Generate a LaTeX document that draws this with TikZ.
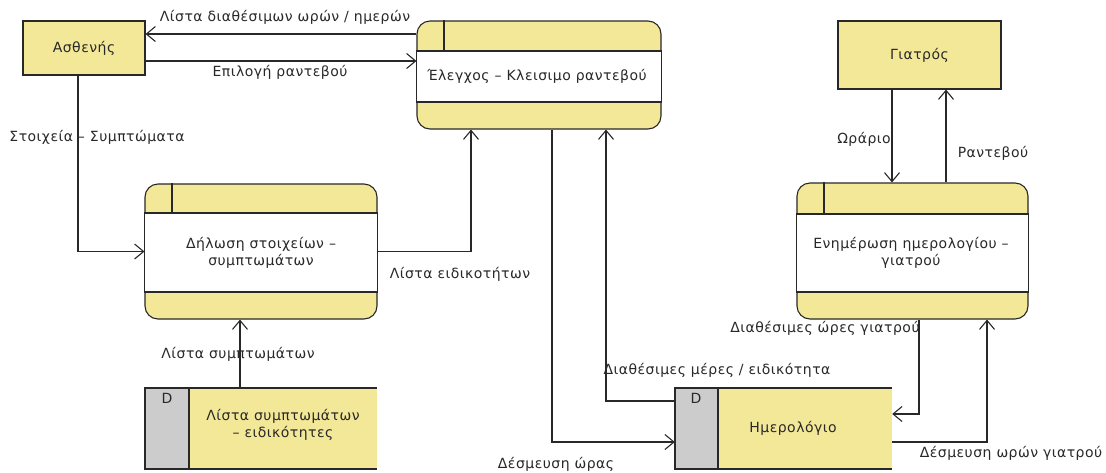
\documentclass[tikz,border=0pt]{standalone}
\usepackage{fontspec}
\setmainfont{DejaVu Sans}[LetterSpace=3.5]
\usetikzlibrary{arrows.meta}
\definecolor{procfill}{RGB}{243,232,152}
\definecolor{storegray}{RGB}{204,204,204}
\definecolor{ink}{RGB}{40,40,40}
\tikzset{
  base/.style={line width=1.1pt, draw=ink},
  entity/.style={base, rectangle, fill=procfill, inner sep=0pt},
  procbox/.style={base, rectangle, rounded corners=13pt, fill=procfill, inner sep=0pt},
  holder/.style={rectangle, inner sep=0pt},
  txt/.style={font=\fontsize{14}{17}\selectfont, text=ink, align=center, inner sep=0pt},
  lbl/.style={txt},
  flow/.style={base, -{Straight Barb[length=9pt,width=15pt,line width=1.1pt]}},
}
\newcommand{\procbands}[4]{% name, header bottom, footer top, divider x
  \fill[white] (#1.west |- 0,#2) rectangle (#1.east |- 0,#3);
  \draw[base] (#1.west |- 0,#2) -- (#1.east |- 0,#2);
  \draw[base] (#1.west |- 0,#3) -- (#1.east |- 0,#3);
  \draw[base] (#1.west |- 0,#2) -- (#1.west |- 0,#3);
  \draw[base] (#1.east |- 0,#2) -- (#1.east |- 0,#3);
  \draw[base] (#4,0 |- #1.north) -- (#4,#2);
}
\newcommand{\datastore}[6]{% name, left, top, right, bottom, gray right
  \fill[procfill] (#6,#3) rectangle (#4,#5);
  \fill[storegray] (#2,#3) rectangle (#6,#5);
  \draw[base] (#4,#3) -- (#2,#3) -- (#2,#5) -- (#4,#5);
  \draw[base] (#6,#3) -- (#6,#5);
  \node[holder, minimum width={#4-#2}, minimum height={#5-#3}] (#1) at ({(#2+#4)/2},{(#3+#5)/2}) {};
}
\begin{document}
\begin{tikzpicture}[x=1pt,y=-1pt]
\useasboundingbox (0,0) rectangle (1106,472);

% external entities
\node[entity, minimum width=122pt, minimum height=54pt] (pat) at (84,48) {};
\node[txt] at (pat.center) {Ασθενής};
\node[entity, minimum width=163pt, minimum height=68pt] (doc) at (919.5,55) {};
\node[txt] at (doc.center) {Γιατρός};

% processes
\node[procbox, minimum width=244pt, minimum height=108pt] (chk) at (539,75) {};
\procbands{chk}{51}{102}{444}
\node[txt] at (537,76.5) {Έλεγχος – Κλεισιμο ραντεβού};

\node[procbox, minimum width=232pt, minimum height=135pt] (dec) at (261,251.5) {};
\procbands{dec}{213}{292}{172}
\node[txt] at (261,253) {Δήλωση στοιχείων –\\συμπτωμάτων};

\node[procbox, minimum width=231pt, minimum height=136pt] (upd) at (912.5,251) {};
\procbands{upd}{214}{292}{824}
\node[txt] at (911,253) {Ενημέρωση ημερολογίου –\\γιατρού};

% data stores
\datastore{sym}{145}{388}{377}{469}{189}
\node[txt] at (167,398) {D};
\node[txt] at (283,425) {Λίστα συμπτωμάτων\\– ειδικότητες};
\datastore{cal}{675}{388}{892}{469}{718}
\node[txt] at (696,398) {D};
\node[txt] at (793,428) {Ημερολόγιο};

% data flows
\draw[flow] ([yshift=41pt]chk.west) -- ([yshift=41pt]chk.west -| pat.east);
\draw[flow] ([yshift=-13pt]pat.east) -- ([yshift=-13pt]pat.east -| chk.west);
\draw[flow] ([xshift=-6pt]pat.south) |- (dec.west);
\draw[flow] (dec.east) -| ([xshift=-68pt]chk.south);
\draw[flow] ([xshift=-21pt]sym.north) -- ([xshift=-21pt]sym.north |- dec.south);
\draw[flow] ([xshift=13pt]chk.south) |- ([yshift=-13.5pt]cal.west);
\draw[flow] ([yshift=27.5pt]cal.west) -| ([xshift=67pt]chk.south);
\draw[flow] ([xshift=6.5pt]upd.south) |- ([yshift=14.5pt]cal.east);
\draw[flow] ([yshift=-13.5pt]cal.east) -| ([xshift=74.5pt]upd.south);
\draw[flow] ([xshift=-27.5pt]doc.south) -- ([xshift=-27.5pt]doc.south |- upd.north);
\draw[flow] ([xshift=33.5pt]upd.north) -- ([xshift=33.5pt]upd.north |- doc.south);

% flow labels
\node[lbl] at (285,17) {Λίστα διαθέσιμων ωρών / ημερών};
\node[lbl] at (280,72) {Επιλογή ραντεβού};
\node[lbl] at (97,137) {Στοιχεία – Συμπτώματα};
\node[lbl] at (460,274) {Λίστα ειδικοτήτων};
\node[lbl] at (238,354) {Λίστα συμπτωμάτων};
\node[lbl] at (556,464) {Δέσμευση ώρας};
\node[lbl] at (717,370) {Διαθέσιμες μέρες / ειδικότητα};
\node[lbl] at (825,328) {Διαθέσιμες ώρες γιατρού};
\node[lbl] at (1011,453) {Δέσμευση ωρών γιατρού};
\node[lbl] at (864,139) {Ωράριο};
\node[lbl] at (993,153) {Ραντεβού};
\end{tikzpicture}
\end{document}
